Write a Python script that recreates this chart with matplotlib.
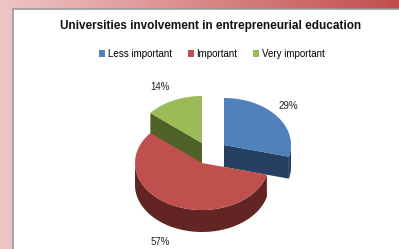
"""
3D exploded pie: universities involvement in entrepreneurial education
"""

import numpy as np
import matplotlib
matplotlib.use('agg')
import matplotlib.pyplot as plt
from matplotlib.patches import Polygon, Rectangle, Patch

# ------------- data ---------------------------------
categories = ['Less important', 'Important', 'Very important']
shares = [29, 57, 14]
labels = ['29%', '57%', '14%']

top_colors = ['#4f81bd', '#c0504d', '#9bbb59']
side_colors = ['#254061', '#632523', '#4f6228']

# ------------- geometry (pixel space) ---------------
cx, cy = 202, 163
rx, ry, depth = 67, 47, 22
shift = [(22, -18), (0, 0), (0, -20)]   # explode offsets per slice

plt.rcParams['font.family'] = ['Liberation Sans', 'DejaVu Sans']

fig = plt.figure(figsize=(3.99, 2.49), dpi=100)
ax = fig.add_axes([0, 0, 1, 1])
ax.set_xlim(0, 399)
ax.set_ylim(249, 0)
ax.axis('off')

# ----------- background --------------------------------
grad = np.linspace(0, 1, 256)
c0 = np.array([240, 197, 197]) / 255
c1 = np.array([194, 78, 76]) / 255
img = c0[None, :] * (1 - grad[:, None]) + c1[None, :] * grad[:, None]
ax.imshow(img[None, :, :], extent=[0, 399, 249, 0], aspect='auto', zorder=0)
ax.add_patch(Rectangle((13, 9), 400, 250, facecolor='white',
                       edgecolor='#9a9a9a', linewidth=1.2, zorder=1))


def rim(t, x0, y0, dz=0):
    t = np.radians(t)
    return np.column_stack([x0 + rx * np.sin(t), y0 - ry * np.cos(t) + dz])


# ----------- slices ------------------------------------
bounds = np.concatenate([[0], np.cumsum(shares) / sum(shares) * 360])
order = [2, 0, 1]   # back to front
z = 2
for i in order:
    a0, a1 = bounds[i], bounds[i + 1]
    x0, y0 = cx + shift[i][0], cy + shift[i][1]
    c = np.array([[x0, y0]])
    # radial cut faces
    for ang, normal in [(a0, a0 - 90), (a1, a1 + 90)]:
        if np.cos(np.radians(normal)) < -1e-6:
            p = rim(ang, x0, y0)
            face = np.vstack([c, p, p + [0, depth], c + [0, depth]])
            ax.add_patch(Polygon(face, closed=True, facecolor=side_colors[i],
                                 edgecolor='none', zorder=z))
    # outer wall, front half only
    w0, w1 = max(a0, 90), min(a1, 270)
    if w1 > w0:
        t = np.linspace(w0, w1, 80)
        wall = np.vstack([rim(t, x0, y0), rim(t[::-1], x0, y0, depth)])
        ax.add_patch(Polygon(wall, closed=True, facecolor=side_colors[i],
                             edgecolor='none', zorder=z))
    # top face
    t = np.linspace(a0, a1, 120)
    top = np.vstack([c, rim(t, x0, y0)])
    ax.add_patch(Polygon(top, closed=True, facecolor=top_colors[i],
                         edgecolor='none', zorder=z + 1))
    z += 2

# ----------- text --------------------------------------
label_pos = [(288, 106), (160, 242), (160, 87)]
for lab, (x, y) in zip(labels, label_pos):
    ax.text(x, y, lab, ha='center', va='center', fontsize=7,
            color='#222222', zorder=20)

ax.text(211, 26, 'Universities involvement in entrepreneurial education',
        ha='center', va='center', fontsize=8.5, fontweight='bold',
        color='#111111', zorder=20)

handles = [Patch(facecolor=col, label=cat)
           for col, cat in zip(top_colors, categories)]
ax.legend(handles=handles, ncol=3, loc='center',
          bbox_to_anchor=(212 / 399, 1 - 54 / 249), frameon=False,
          fontsize=7, handlelength=0.6, handleheight=0.6,
          handletextpad=0.3, columnspacing=1.6, borderaxespad=0)

plt.savefig('out.png', dpi=100)
